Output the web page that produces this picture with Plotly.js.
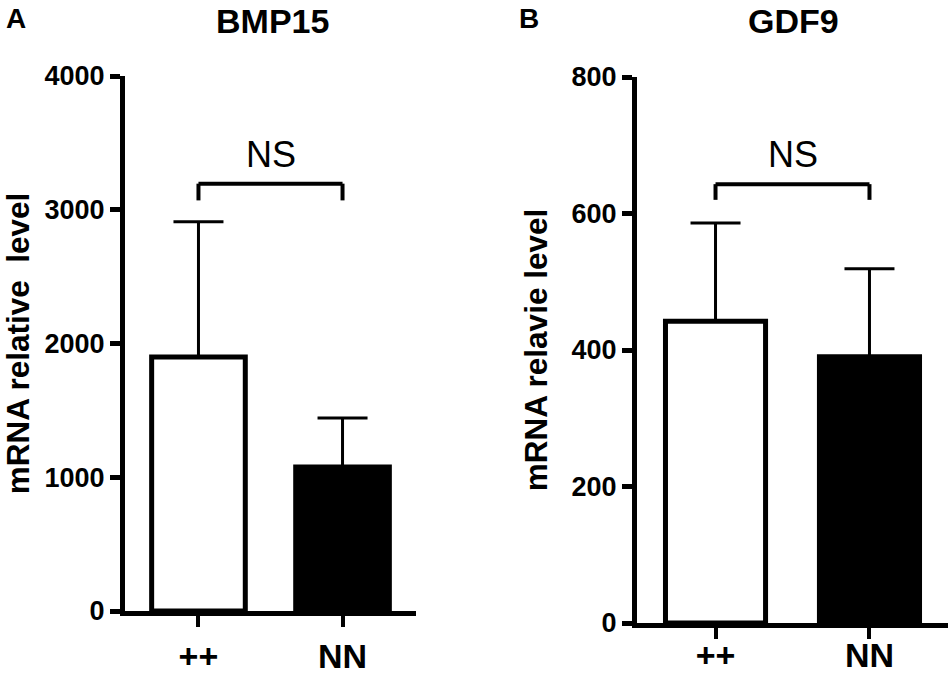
<!DOCTYPE html>
<html>
<head>
<meta charset="utf-8">
<script src="https://cdn.plot.ly/plotly-3.0.1.min.js"></script>
<style>html,body{margin:0;padding:0;background:#fff;}#chart{width:950px;height:677px;}</style>
</head>
<body>
<div id="chart"></div>
<script>
// ---- data ----
const categories = ['++', 'NN'];
const bmp15Mean = [1900, 1077];
const bmp15Err = [1010, 366];
const gdf9Mean = [442, 390];
const gdf9Err = [144, 129];
const bmp15Ticks = [0, 1000, 2000, 3000, 4000];
const gdf9Ticks = [0, 200, 400, 600, 800];
const sigLabel = 'NS';
// bracket levels (data units): [bar level, leg bottom, label level]
const bmp15Bracket = [3195, 3070, 3410];
const gdf9Bracket = [643, 620, 686];

const FONT = 'Liberation Sans, Arial, Helvetica, sans-serif';
const fillColors = ['#ffffff', '#000000'];

function barTrace(means, errs, xa, ya) {
  return {
    type: 'bar', x: categories, y: means, xaxis: xa, yaxis: ya,
    width: 0.65,
    marker: { color: fillColors, line: { color: '#000', width: 5 } },
    error_y: { type: 'data', symmetric: false, array: errs, arrayminus: errs.map(() => 0),
               color: '#000', thickness: 3, width: 25 },
    hoverinfo: 'skip', showlegend: false
  };
}

function xAxis(domain, anchor, standoff) {
  return {
    domain: domain, anchor: anchor, type: 'category', range: [-0.51, 1.51],
    showline: true, linecolor: '#000', linewidth: 5, mirror: false,
    ticks: 'outside', ticklen: 11, tickwidth: 4, tickcolor: '#000',
    showgrid: false, zeroline: false, fixedrange: true,
    tickfont: { family: FONT, size: 34, color: '#000', weight: 'bold' },
    ticklabelstandoff: standoff
  };
}
function yAxis(domain, anchor, range, ticks, title, standoff) {
  return {
    domain: domain, anchor: anchor, range: range,
    tickmode: 'array', tickvals: ticks, ticktext: ticks.map(String),
    showline: true, linecolor: '#000', linewidth: 5,
    ticks: 'outside', ticklen: 10, tickwidth: 5, tickcolor: '#000',
    showgrid: false, zeroline: false, fixedrange: true,
    tickfont: { family: FONT, size: 27, color: '#000', weight: 'bold' },
    title: { text: title, standoff: standoff, font: { family: FONT, size: 31.5, color: '#000', weight: 'bold' } }
  };
}

function bracket(xa, ya, lv) {
  const xr = xa, yr = ya;
  return [
    { type: 'line', xref: xr, yref: yr, x0: categories[0], x1: categories[0], y0: lv[1], y1: lv[0], line: { color: '#000', width: 4 } },
    { type: 'line', xref: xr, yref: yr, x0: categories[0], x1: categories[1], y0: lv[0], y1: lv[0], line: { color: '#000', width: 4 } },
    { type: 'line', xref: xr, yref: yr, x0: categories[1], x1: categories[1], y0: lv[1], y1: lv[0], line: { color: '#000', width: 4 } }
  ];
}

const data = [
  barTrace(bmp15Mean, bmp15Err, 'x', 'y'),
  barTrace(gdf9Mean, gdf9Err, 'x2', 'y2')
];

const layout = {
  width: 950, height: 677,
  margin: { l: 0, r: 0, t: 0, b: 0 },
  paper_bgcolor: '#fff', plot_bgcolor: '#fff',
  bargap: 0.35,
  xaxis: xAxis([125 / 950, 416 / 950], 'y', 0),
  yaxis: yAxis([1 - 611 / 677, 1 - 76 / 677], 'x', [0, 4000], bmp15Ticks, 'mRNA relative  level', 16),
  xaxis2: xAxis([637 / 950, 948 / 950], 'y2', -13),
  yaxis2: yAxis([1 - 623 / 677, 1 - 77 / 677], 'x2', [0, 800], gdf9Ticks, 'mRNA relavie level', 16),
  shapes: [].concat(bracket('x', 'y', bmp15Bracket), bracket('x2', 'y2', gdf9Bracket)),
  annotations: [
    { text: 'BMP15', xref: 'paper', yref: 'paper', x: 272 / 950, y: 1 - 21 / 677, xanchor: 'center', yanchor: 'middle', showarrow: false,
      font: { family: FONT, size: 34, color: '#000', weight: 'bold' } },
    { text: 'GDF9', xref: 'paper', yref: 'paper', x: 793 / 950, y: 1 - 21 / 677, xanchor: 'center', yanchor: 'middle', showarrow: false,
      font: { family: FONT, size: 34, color: '#000', weight: 'bold' } },
    { text: 'A', xref: 'paper', yref: 'paper', x: 16 / 950, y: 1 - 19 / 677, xanchor: 'center', yanchor: 'middle', showarrow: false,
      font: { family: FONT, size: 28, color: '#000', weight: 'bold' } },
    { text: 'B', xref: 'paper', yref: 'paper', x: 529 / 950, y: 1 - 19 / 677, xanchor: 'center', yanchor: 'middle', showarrow: false,
      font: { family: FONT, size: 28, color: '#000', weight: 'bold' } },
    { text: sigLabel, xref: 'x', yref: 'y', x: 0.5, y: bmp15Bracket[2], xanchor: 'center', yanchor: 'middle', showarrow: false,
      font: { family: FONT, size: 36, color: '#000' } },
    { text: sigLabel, xref: 'x2', yref: 'y2', x: 0.5, y: gdf9Bracket[2], xanchor: 'center', yanchor: 'middle', showarrow: false,
      font: { family: FONT, size: 36, color: '#000' } }
  ]
};

Plotly.newPlot('chart', data, layout, { displayModeBar: false, staticPlot: true });
</script>
</body>
</html>
